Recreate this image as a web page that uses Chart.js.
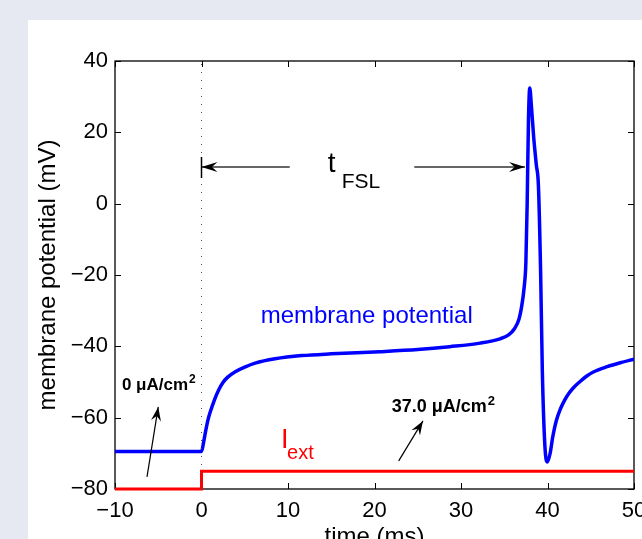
<!DOCTYPE html>
<html>
<head>
<meta charset="utf-8">
<script src="https://cdn.jsdelivr.net/npm/chart.js@4"></script>
<style>
html, body { margin: 0; padding: 0; width: 642px; height: 539px; overflow: hidden; background: #e6e9f2; }
#panel { position: absolute; left: 28px; top: 20px; width: 640px; height: 540px; background: #fff; }
canvas { display: block; }
</style>
</head>
<body>
<div id="panel"><canvas id="chart" width="640" height="540"></canvas></div>
<script>
// membrane potential trace (ms, mV)
const timeMs = [-10, 0, 0.25, 0.5, 0.75, 1, 1.5, 2, 2.5, 3, 3.9, 5, 6.2, 8.5, 11.6, 15, 20.6, 25, 28.7, 32.2, 34.5, 35.5, 36.2, 36.7, 37, 37.3, 37.5, 37.65, 37.8, 37.95, 38.15, 38.4, 38.7, 38.95, 39.2, 39.4, 39.7, 40, 40.3, 40.6, 41, 41.5, 42, 42.5, 43, 43.8, 44.5, 45.3, 46.9, 48.4, 50]
const vm = [-69.5, -69.5, -66.8, -63.5, -60.6, -58.5, -55, -52.2, -50.1, -48.7, -47.1, -45.8, -44.7, -43.5, -42.6, -42.1, -41.5, -40.9, -40.1, -39.1, -37.9, -36.8, -35, -32.4, -29, -23.5, -16.5, 0, 23.5, 32.4, 27, 18.7, 11, 5, -18.6, -46.6, -68, -72.4, -70, -65.5, -61, -57.5, -55, -53.1, -51.6, -49.8, -48.4, -47.2, -45.7, -44.6, -43.6]

// external current step, drawn on the same axes
const iextTime = [-10, 0, 0, 50]
const iextLevel = [-80, -80, -75, -75]

const xTicks = [-10, 0, 10, 20, 30, 40, 50]
const yTicks = [-80, -60, -40, -20, 0, 20, 40]

const FONT = '"Liberation Sans", Arial, Helvetica, sans-serif'
const minus = v => v < 0 ? '\u2212' + Math.abs(v) : String(v)

function arrow(ctx, x1, y1, x2, y2, len, half) {
    ctx.beginPath()
    ctx.moveTo(x1, y1)
    ctx.lineTo(x2, y2)
    ctx.stroke()
    const a = Math.atan2(y2 - y1, x2 - x1)
    const c = Math.cos(a), s = Math.sin(a)
    ctx.beginPath()
    ctx.moveTo(x2, y2)
    ctx.lineTo(x2 - len * c + half * s, y2 - len * s - half * c)
    ctx.lineTo(x2 - 0.65 * len * c, y2 - 0.65 * len * s)
    ctx.lineTo(x2 - len * c - half * s, y2 - len * s + half * c)
    ctx.closePath()
    ctx.fill()
}

// axes box, inward ticks, titles and annotations
const matlabLook = {
    id: 'matlabLook',
    beforeDatasetsDraw(chart) {
        const { ctx, chartArea: a, scales: { x, y } } = chart
        ctx.save()
        ctx.strokeStyle = '#000'
        ctx.lineWidth = 1.3
        ctx.strokeRect(a.left, a.top, a.right - a.left, a.bottom - a.top)
        ctx.lineWidth = 1
        ctx.beginPath()
        xTicks.forEach(t => {
            const px = Math.round(x.getPixelForValue(t)) + 0.5
            ctx.moveTo(px, a.bottom); ctx.lineTo(px, a.bottom - 6)
            ctx.moveTo(px, a.top); ctx.lineTo(px, a.top + 6)
        })
        yTicks.forEach(t => {
            const py = Math.round(y.getPixelForValue(t)) + 0.5
            ctx.moveTo(a.left, py); ctx.lineTo(a.left + 6, py)
            ctx.moveTo(a.right, py); ctx.lineTo(a.right - 6, py)
        })
        ctx.stroke()

        // axis titles
        ctx.fillStyle = '#000'
        ctx.font = '24px ' + FONT
        ctx.textAlign = 'center'
        ctx.textBaseline = 'middle'
        ctx.fillText('time (ms)', (a.left + a.right) / 2, 517)
        ctx.translate(20, (a.top + a.bottom) / 2)
        ctx.rotate(-Math.PI / 2)
        ctx.fillText('membrane potential (mV)', 0, 0)
        ctx.restore()
    },
    afterDatasetsDraw(chart) {
        const { ctx, scales: { x, y } } = chart
        const X = v => x.getPixelForValue(v)
        const Y = v => y.getPixelForValue(v)
        ctx.save()
        ctx.textAlign = 'left'
        ctx.textBaseline = 'alphabetic'

        // first spike latency
        ctx.strokeStyle = '#333'
        ctx.fillStyle = '#000'
        ctx.lineWidth = 1.5
        arrow(ctx, X(10.2), Y(10.3), X(0), Y(10.3), 16, 5)
        arrow(ctx, X(24.6), Y(10.3), X(37.4), Y(10.3), 16, 5)
        ctx.strokeStyle = '#000'
        ctx.beginPath()
        ctx.moveTo(X(0), Y(13.1)); ctx.lineTo(X(0), Y(7.2))
        ctx.stroke()
        ctx.font = '28px ' + FONT
        ctx.fillText('t', X(14.6), Y(8.9))
        ctx.font = '21px ' + FONT
        ctx.fillText('FSL', X(14.6) + 14, Y(8.9) + 16)

        // trace label
        ctx.fillStyle = '#0000ff'
        ctx.font = '24px ' + FONT
        ctx.textAlign = 'center'
        ctx.textBaseline = 'middle'
        ctx.fillText('membrane potential', X(19.1), Y(-31.5))

        // current label
        ctx.fillStyle = '#ff0000'
        ctx.textAlign = 'left'
        ctx.textBaseline = 'alphabetic'
        ctx.font = '27px ' + FONT
        ctx.fillText('I', X(9.2), Y(-68.5))
        ctx.font = '20px ' + FONT
        ctx.fillText('ext', X(9.2) + 6, Y(-68.5) + 11)

        // current amplitudes
        ctx.fillStyle = '#000'
        ctx.strokeStyle = '#000'
        ctx.lineWidth = 1.2
        const amp = (txt, vx, vy, size) => {
            ctx.font = 'bold ' + size + 'px ' + FONT
            ctx.fillText(txt, X(vx), Y(vy))
            const w = ctx.measureText(txt).width
            ctx.font = 'bold ' + Math.round(size * 0.7) + 'px ' + FONT
            ctx.fillText('2', X(vx) + w + 1, Y(vy) - 7)
        }
        amp('0 \u03bcA/cm', -9.2, -52.2, 17)
        amp('37.0 \u03bcA/cm', 22.0, -58.4, 18)
        arrow(ctx, X(-6.3), Y(-76.6), X(-5.0), Y(-57), 14, 5)
        arrow(ctx, X(22.8), Y(-72.1), X(25.6), Y(-60.9), 14, 5)
        ctx.restore()
    }
}

const ctx = document.querySelector('#chart').getContext('2d')

new Chart(ctx, {
    type: 'line',
    data: {
        datasets: [
            {
                label: 'stimulus onset',
                data: [{ x: 0, y: -80 }, { x: 0, y: 40 }],
                borderColor: '#555',
                borderWidth: 1,
                borderDash: [1, 7],
                pointRadius: 0
            },
            {
                label: 'I_ext',
                data: iextTime.map((t, i) => ({ x: t, y: iextLevel[i] })),
                borderColor: '#ff0000',
                borderWidth: 3,
                pointRadius: 0,
                tension: 0,
                clip: false
            },
            {
                label: 'membrane potential',
                data: timeMs.map((t, i) => ({ x: t, y: vm[i] })),
                borderColor: '#0000ff',
                borderWidth: 3.5,
                pointRadius: 0,
                cubicInterpolationMode: 'monotone'
            }
        ]
    },
    options: {
        responsive: false,
        animation: false,
        events: [],
        layout: { padding: { top: 41, right: 34, left: 0, bottom: 0 } },
        plugins: { legend: { display: false }, tooltip: { enabled: false } },
        scales: {
            x: {
                type: 'linear',
                min: -10,
                max: 50,
                afterFit: s => { s.height = 71 },
                afterBuildTicks: s => { s.ticks = xTicks.map(v => ({ value: v })) },
                grid: { display: false, drawTicks: false },
                border: { display: false },
                ticks: { color: '#000', padding: 9, font: { size: 22, family: FONT }, callback: minus, maxRotation: 0 }
            },
            y: {
                type: 'linear',
                min: -80,
                max: 40,
                afterFit: s => { s.width = 87 },
                afterBuildTicks: s => { s.ticks = yTicks.map(v => ({ value: v })) },
                grid: { display: false, drawTicks: false },
                border: { display: false },
                ticks: { color: '#000', padding: 7, font: { size: 22, family: FONT }, callback: minus }
            }
        }
    },
    plugins: [matlabLook]
})
</script>
</body>
</html>
